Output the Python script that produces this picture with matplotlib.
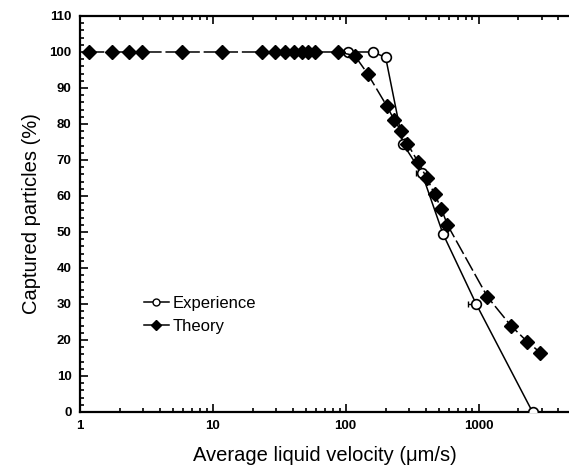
import matplotlib.pyplot as plt
from matplotlib.ticker import LogLocator, FixedLocator, MultipleLocator, NullFormatter
from matplotlib.lines import Line2D
import numpy as np

plt.rcParams['font.family'] = ['Liberation Sans', 'DejaVu Sans']

# vitesse moyenne du liquide (um/s) et particules capturees (%)
theory_v = [1.17, 1.75, 2.33, 2.92, 5.83, 11.7, 23.3, 29.2, 35.0, 40.8, 46.7, 52.5,
            58.3, 87.5, 117, 146, 204, 233, 262, 292, 350, 408, 467, 525, 583,
            1167, 1750, 2333, 2917]
theory_c = [100, 100, 100, 100, 100, 100, 100, 100, 100, 100, 100, 100,
            100, 100, 99, 94, 85, 81, 78, 74.5, 69.5, 65, 60.5, 56.5, 52,
            32, 24, 19.5, 16.5]

exp_v = [105, 160, 200, 270, 375, 540, 960, 2550]
exp_c = [100, 100, 98.5, 74.5, 66.3, 49.5, 30, 0]
exp_err_low = [0, 0, 0, 15, 35, 18, 130, 0]

fig = plt.figure(figsize=(5.69, 4.76), dpi=100)
ax = fig.add_axes([0.1406, 0.1345, 0.8594, 0.8319])

# barres d'erreur (cote gauche seulement)
ax.errorbar(exp_v, exp_c, xerr=[exp_err_low, [0] * len(exp_v)], fmt='none',
            ecolor='black', elinewidth=1.0, capsize=2.5, capthick=1.0, zorder=2)

ax.plot(exp_v, exp_c, '-', color='black', lw=1.1, marker='o', ms=7,
        mfc='white', mec='black', mew=1.2, zorder=3)
ax.plot(theory_v, theory_c, color='black', lw=1.1, dashes=(10, 2.5),
        marker='D', ms=7, mfc='black', mec='black', zorder=4)

ax.set_xscale('log')
ax.set_xlim(1, 4800)
ax.set_ylim(0, 110)

ax.xaxis.set_major_locator(FixedLocator([1, 10, 100, 1000]))
ax.xaxis.set_major_formatter(plt.FuncFormatter(lambda v, p: '%d' % v))
ax.xaxis.set_minor_locator(LogLocator(base=10, subs=np.arange(2, 10), numticks=20))
ax.xaxis.set_minor_formatter(NullFormatter())
ax.yaxis.set_major_locator(MultipleLocator(10))
ax.yaxis.set_minor_locator(MultipleLocator(2))

ax.tick_params(which='both', direction='in', top=True, right=False, width=1.2)
ax.tick_params(which='major', length=6, labelsize=9.5, pad=6)
ax.tick_params(which='minor', length=3)
for lab in ax.get_xticklabels() + ax.get_yticklabels():
    lab.set_fontweight('bold')

ax.spines['right'].set_visible(False)
for s in ['left', 'bottom', 'top']:
    ax.spines[s].set_linewidth(1.6)

ax.set_xlabel('Average liquid velocity (\u03bcm/s)', fontsize=14.5, labelpad=10)
ax.set_ylabel('Captured particles (%)', fontsize=14.5, labelpad=6)

handles = [
    Line2D([], [], color='black', lw=1.1, marker='o', ms=5, mfc='white', mec='black'),
    Line2D([], [], color='black', lw=1.1, marker='D', ms=5, mfc='black', mec='black'),
]
ax.legend(handles, ['Experience', 'Theory'], loc='upper left',
          bbox_to_anchor=(0.10, 0.33), frameon=False, fontsize=12,
          handlelength=1.5, handletextpad=0.25, labelspacing=0.45)

fig.savefig('out.png', dpi=100)
